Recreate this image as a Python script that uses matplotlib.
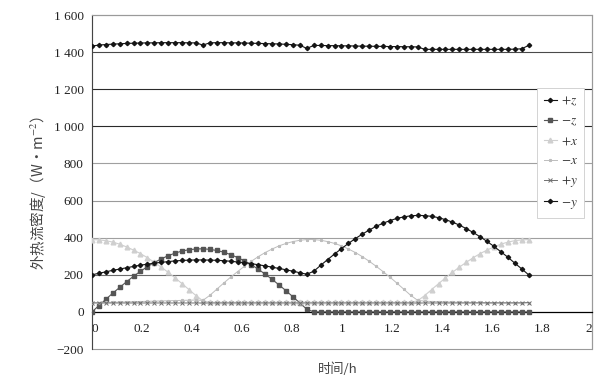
import numpy as np
import matplotlib
matplotlib.use("Agg")
import matplotlib.pyplot as plt
from matplotlib.patches import Rectangle

plt.rcParams['font.family'] = ['Liberation Serif', 'Noto Sans CJK SC', 'DejaVu Sans']
plt.rcParams['mathtext.fontset'] = 'stix'

# ---- data -------------------------------------------------------------
time_step_h = 0.02772
n_points = 64
time_h = np.arange(n_points) * time_step_h

plus_z = [1433, 1438, 1441, 1443, 1445, 1447, 1448, 1449, 1450, 1450, 1451, 1451, 1451, 1451, 1450, 1450,
          1438, 1450, 1451, 1451, 1450, 1450, 1449, 1448, 1447, 1446, 1445, 1444, 1442, 1440, 1437, 1420,
          1436, 1436, 1435, 1435, 1434, 1434, 1433, 1432, 1432, 1431, 1431, 1430, 1430, 1429, 1429, 1428,
          1415, 1415, 1415, 1415, 1415, 1415, 1415, 1415, 1415, 1415, 1415, 1415, 1415, 1416, 1418, 1436]

minus_z = [0, 34, 68, 101, 132, 163, 192, 219, 244, 266, 286, 303, 317, 328, 335, 339,
           340, 337, 331, 322, 309, 293, 275, 254, 230, 203, 175, 145, 114, 81, 48, 14,
           0, 0, 0, 0, 0, 0, 0, 0, 0, 0, 0, 0, 0, 0, 0, 0,
           0, 0, 0, 0, 0, 0, 0, 0, 0, 0, 0, 0, 0, 0, 0, 0]

plus_x = [390, 388, 384, 376, 365, 350, 333, 314, 292, 267, 241, 213, 183, 152, 120, 88,
          60, 52, 52, 52, 52, 52, 52, 52, 52, 52, 52, 52, 52, 52, 52, 52,
          52, 52, 52, 52, 52, 52, 52, 52, 52, 52, 52, 52, 52, 52, 52, 60,
          88, 120, 152, 183, 213, 241, 267, 292, 314, 333, 350, 365, 376, 384, 388, 390]

minus_x = [50, 50, 51, 52, 53, 54, 55, 56, 57, 58, 59, 60, 61, 62, 63, 64,
           62, 89, 122, 155, 187, 217, 246, 273, 298, 320, 339, 356, 369, 379, 386, 390,
           390, 386, 379, 369, 356, 339, 320, 298, 273, 246, 217, 187, 155, 122, 89, 62,
           58, 56, 55, 54, 53, 52, 52, 51, 51, 50, 50, 50, 50, 50, 50, 50]

plus_y = [48, 48, 48, 48, 48, 48, 48, 48, 48, 48, 48, 48, 48, 48, 48, 48,
          48, 48, 48, 48, 48, 48, 48, 48, 48, 48, 48, 48, 48, 48, 48, 48,
          48, 48, 48, 48, 48, 48, 48, 48, 48, 48, 48, 48, 48, 48, 48, 48,
          48, 48, 48, 48, 48, 48, 48, 48, 48, 48, 48, 48, 48, 48, 48, 50]

minus_y = [200, 208, 216, 224, 231, 238, 245, 252, 257, 263, 267, 271, 275, 277, 279, 280,
           280, 279, 278, 276, 273, 269, 265, 260, 254, 248, 241, 234, 227, 219, 211, 203,
           219, 251, 282, 312, 341, 369, 395, 419, 441, 461, 478, 492, 504, 512, 518, 520,
           519, 515, 508, 497, 484, 468, 449, 428, 405, 380, 353, 324, 295, 263, 232, 200]

series_labels = [r'$+z$', r'$-z$', r'$+x$', r'$-x$', r'$+y$', r'$-y$']

x_ticks = [0, 0.2, 0.4, 0.6, 0.8, 1.0, 1.2, 1.4, 1.6, 1.8, 2.0]
x_tick_labels = ['0', '0.2', '0.4', '0.6', '0.8', '1', '1.2', '1.4', '1.6', '1.8', '2']
y_ticks = [-200, 0, 200, 400, 600, 800, 1000, 1200, 1400, 1600]
y_tick_labels = ['\u2212200', '0', '200', '400', '600', '800', '1 000', '1 200', '1 400', '1 600']

# ---- figure -----------------------------------------------------------
fig = plt.figure(figsize=(6.14, 3.88), dpi=100)
ax = fig.add_axes([0.1498, 0.1005, 0.8144, 0.8608])
ax.set_xlim(0, 2)
ax.set_ylim(-200, 1600)

grid_levels = [200, 400, 600, 800, 1000, 1200, 1400]
grid_colors = ['#6a6a6a', '#a0a0a0', '#9a9a9a', '#a0a0a0', '#2a2a2a', '#2a2a2a', '#4a4a4a']
for lvl, col in zip(grid_levels, grid_colors):
    ax.axhline(lvl, color=col, lw=0.8, zorder=1)

styles = [
    dict(color='#151515', marker='D', ms=2.2, lw=0.8),
    dict(color='#555555', marker='s', ms=3.0, lw=0.8),
    dict(color='#cfcfcf', marker='^', ms=3.4, lw=0.8),
    dict(color='#bdbdbd', marker='*', ms=2.0, lw=0.7),
    dict(color='#707070', marker='x', ms=2.5, lw=0.7, mew=0.7),
    dict(color='#151515', marker='D', ms=2.2, lw=0.8),
]
all_series = [plus_z, minus_z, plus_x, minus_x, plus_y, minus_y]
for vals, lab, st in zip(all_series, series_labels, styles):
    ax.plot(time_h, vals, label=lab, zorder=3, **st)

# axes frame
for s in ['top', 'right', 'left']:
    ax.spines[s].set_color('#9a9a9a')
    ax.spines[s].set_linewidth(0.8)
ax.spines['left'].set_color('#444444')
ax.spines['bottom'].set_position(('data', 0))
ax.spines['bottom'].set_color('#000000')
ax.spines['bottom'].set_linewidth(0.9)
ax.add_patch(Rectangle((0, 0), 1, 1, transform=ax.transAxes, fill=False,
                       ec='#9a9a9a', lw=0.8, zorder=0.5, clip_on=False))

ax.set_xticks(x_ticks)
ax.set_xticklabels(x_tick_labels)
ax.set_yticks(y_ticks)
ax.set_yticklabels(y_tick_labels)
ax.tick_params(axis='x', length=0, pad=8, labelsize=9.5, colors='#222222')
ax.tick_params(axis='y', length=0, pad=6, labelsize=9.5, colors='#222222')
xt = ax.get_xticklabels()
xt[0].set_ha('left')
xt[-1].set_ha('right')

cjk = ['Noto Sans CJK SC', 'DejaVu Sans']
ax.set_ylabel('外热流密度/（W·m$^{-2}$）', family=cjk, fontsize=10.5, color='#444444')
ax.yaxis.set_label_coords(-0.088, 0.466)
ax.set_xlabel('时间/h', family=cjk, fontsize=9.5, color='#444444')
ax.xaxis.set_label_coords(0.492, -0.04)

leg = ax.legend(loc='upper left', bbox_to_anchor=(0.89, 0.781), fontsize=9.5,
                frameon=True, fancybox=False, edgecolor='#cccccc', framealpha=1,
                handlelength=1.0, handletextpad=0.3, labelspacing=0.55,
                borderpad=0.5, borderaxespad=0)
leg.get_frame().set_linewidth(0.6)
for t in leg.get_texts():
    t.set_color('#333333')

fig.savefig('out.png', dpi=100)
